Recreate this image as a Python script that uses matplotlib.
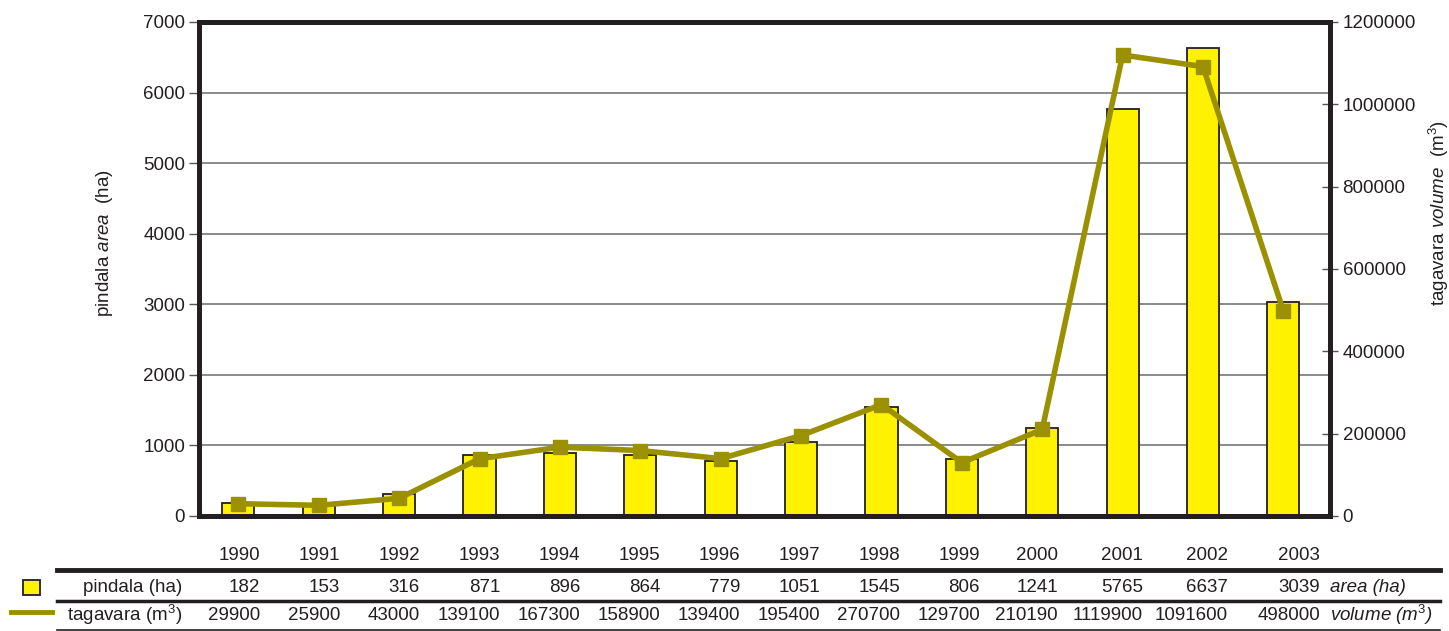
import matplotlib.pyplot as plt
import numpy as np

# data
years = ['1990', '1991', '1992', '1993', '1994', '1995', '1996', '1997',
         '1998', '1999', '2000', '2001', '2002', '2003']
area = [182, 153, 316, 871, 896, 864, 779, 1051, 1545, 806, 1241, 5765, 6637, 3039]
volume = [29900, 25900, 43000, 139100, 167300, 158900, 139400, 195400,
          270700, 129700, 210190, 1119900, 1091600, 498000]

plt.rcParams['font.family'] = 'Liberation Sans'
plt.rcParams['mathtext.fontset'] = 'custom'
plt.rcParams['mathtext.rm'] = 'Liberation Sans'
plt.rcParams['mathtext.it'] = 'Liberation Sans:italic'

dark = '#231f20'
yellow = '#fff200'
olive = '#9a9000'
fs = 13.5

W, H = 1449, 631
fig = plt.figure(figsize=(W / 100, H / 100), dpi=100)
ax = fig.add_axes([199 / W, 1 - 516 / H, (1330 - 199) / W, (516 - 22) / H])
x = np.arange(len(years))

# bars
ax.bar(x, area, width=0.4, color=yellow, edgecolor=dark, linewidth=1.3, zorder=2)
ax.set_xlim(-0.49, 13.58)
ax.set_ylim(0, 7000)
ax.set_yticks(np.arange(0, 7001, 1000))
ax.set_xticks([])
ax.yaxis.grid(True, color='#777777', linewidth=1.2)
ax.set_axisbelow(True)
for s in ax.spines.values():
    s.set_linewidth(3.5)
    s.set_color(dark)
ax.tick_params(axis='y', direction='out', length=7, width=1, color='#555555',
               labelsize=fs, labelcolor=dark, pad=3)
ax.set_ylabel('pindala $\\mathit{area}$  (ha)', fontsize=fs, color=dark)
ax.yaxis.set_label_coords(-0.074, 0.553)

# line on second axis
ax2 = ax.twinx()
ax2.plot(x, volume, color=olive, linewidth=4, marker='s', markersize=10, zorder=3)
ax2.set_ylim(0, 1200000)
ax2.set_yticks(np.arange(0, 1200001, 200000))
ax2.ticklabel_format(axis='y', style='plain', useOffset=False)
ax2.tick_params(axis='y', direction='inout', length=12, width=1, color='#555555',
                labelsize=fs, labelcolor=dark, pad=3)
for s in ax2.spines.values():
    s.set_linewidth(3.5)
    s.set_color(dark)
ax2.set_ylabel('tagavara $\\mathit{volume}$  (m$^3$)', fontsize=fs, color=dark)
ax2.yaxis.set_label_coords(1.086, 0.613)

# data table below
def fy(py):
    return 1 - py / H

right_edges = [260, 340, 420, 500, 580, 660, 740, 820, 900, 980, 1058, 1143, 1228, 1320]
for i, yr in enumerate(years):
    r = right_edges[i] / W
    fig.text(r, fy(556), yr, ha='right', va='center', fontsize=fs, color=dark)
    fig.text(r, fy(587), str(area[i]), ha='right', va='center', fontsize=fs, color=dark)
    fig.text(r, fy(615), str(volume[i]), ha='right', va='center', fontsize=fs, color=dark)

fig.text(182 / W, fy(587), 'pindala (ha)', ha='right', va='center', fontsize=fs, color=dark)
fig.text(182 / W, fy(615), 'tagavara (m$^3$)', ha='right', va='center', fontsize=fs, color=dark)
fig.text(1330 / W, fy(587), 'area (ha)', ha='left', va='center', fontsize=fs,
         color=dark, style='italic')
fig.text(1330 / W, fy(615), 'volume (m$^{\\mathit{3}}$)', ha='left', va='center',
         fontsize=fs, color=dark, style='italic')

fig.add_artist(plt.Line2D([57 / W, 1440 / W], [fy(570), fy(570)], color=dark, linewidth=3.5))
fig.add_artist(plt.Line2D([57 / W, 1440 / W], [fy(601), fy(601)], color=dark, linewidth=2.5))
fig.add_artist(plt.Line2D([57 / W, 1440 / W], [fy(629.5), fy(629.5)], color=dark, linewidth=1.2))

# legend keys
fig.add_artist(plt.Rectangle((23 / W, fy(595)), 17 / W, 15 / H, facecolor=yellow,
                             edgecolor=dark, linewidth=1.3))
fig.add_artist(plt.Line2D([11 / W, 52 / W], [fy(612), fy(612)], color=olive, linewidth=3.5))

fig.savefig('out.png', dpi=100)
